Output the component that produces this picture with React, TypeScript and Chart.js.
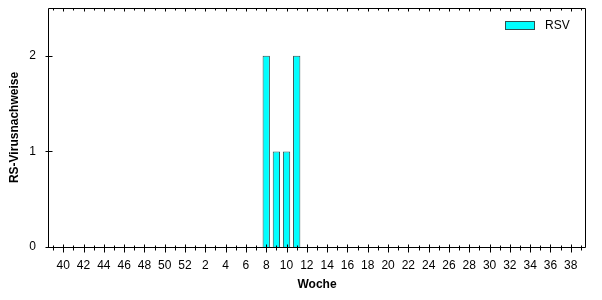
import React, { useEffect, useRef } from 'react';
import { Chart, registerables } from 'chart.js';

Chart.register(...registerables);

const weeks: string[] = [
  '39', '40', '41', '42', '43', '44', '45', '46', '47', '48', '49', '50', '51', '52',
  '1', '2', '3', '4', '5', '6', '7', '8', '9', '10', '11', '12', '13', '14', '15', '16',
  '17', '18', '19', '20', '21', '22', '23', '24', '25', '26', '27', '28', '29', '30',
  '31', '32', '33', '34', '35', '36', '37', '38', '39',
];

const rsvCounts: number[] = [
  0, 0, 0, 0, 0, 0, 0, 0, 0, 0, 0, 0, 0, 0,
  0, 0, 0, 0, 0, 0, 0, 2, 1, 1, 2, 0, 0, 0, 0, 0,
  0, 0, 0, 0, 0, 0, 0, 0, 0, 0, 0, 0, 0, 0,
  0, 0, 0, 0, 0, 0, 0, 0, 0,
];

const yTickValues: number[] = [0, 1, 2];
const seriesLabel = 'RSV';
const xTitle = 'Woche';
const yTitle = 'RS-Virusnachweise';

const FONT = "'Liberation Sans', Arial, sans-serif";

const framePlugin = {
  id: 'frameTicks',
  afterDatasetsDraw(chart: any) {
    const { ctx, chartArea: a, scales } = chart;
    const xs = scales.x;
    const ys = scales.y;
    const L = Math.round(a.left) + 0.5;
    const R = Math.round(a.right) - 0.5;
    const T = Math.round(a.top) + 0.5;
    const B = Math.round(a.bottom) + 0.5;
    ctx.save();
    ctx.strokeStyle = '#000';
    ctx.lineWidth = 1;
    ctx.beginPath();
    ctx.moveTo(L, T);
    ctx.lineTo(R, T);
    ctx.lineTo(R, B);
    ctx.lineTo(L, B);
    ctx.closePath();
    // x ticks
    weeks.forEach((w, i) => {
      const px = Math.round(xs.getPixelForValue(i)) + 0.5;
      const major = parseInt(w, 10) % 2 === 0;
      if (major) {
        ctx.moveTo(px, B - 3);
        ctx.lineTo(px, B + 5);
        ctx.moveTo(px, T);
        ctx.lineTo(px, T + 3);
      } else {
        ctx.moveTo(px, B - 2);
        ctx.lineTo(px, B + 3);
        ctx.moveTo(px, T);
        ctx.lineTo(px, T + 2);
      }
    });
    // y ticks
    yTickValues.forEach((v) => {
      const py = Math.round(ys.getPixelForValue(v)) + 0.5;
      ctx.moveTo(L - 3, py);
      ctx.lineTo(L + 4, py);
    });
    ctx.stroke();

    // legend
    const ds = chart.data.datasets[0];
    const bx = Math.round(a.right) - 81;
    const by = Math.round(a.top) + 13;
    ctx.fillStyle = ds.backgroundColor;
    ctx.fillRect(bx, by, 30, 9);
    ctx.strokeStyle = ds.borderColor;
    ctx.strokeRect(bx + 0.5, by + 0.5, 29, 8);
    ctx.fillStyle = '#000';
    ctx.font = `12px ${FONT}`;
    ctx.textBaseline = 'middle';
    ctx.textAlign = 'left';
    ctx.fillText(ds.label, bx + 40, by + 5);
    ctx.restore();
  },
};

export default function App() {
  const ref = useRef<HTMLCanvasElement | null>(null);

  useEffect(() => {
    document.body.style.margin = '0';
    const canvas = ref.current;
    if (!canvas) return;
    Chart.defaults.font.family = FONT;
    Chart.defaults.font.size = 12;
    Chart.defaults.color = '#000';
    const chart = new Chart(canvas, {
      type: 'bar',
      data: {
        labels: weeks,
        datasets: [
          {
            label: seriesLabel,
            data: rsvCounts,
            backgroundColor: '#00FFFF',
            borderColor: '#2F4F4F',
            borderWidth: 1,
            barPercentage: 0.72,
            categoryPercentage: 1,
          },
        ],
      },
      options: {
        responsive: false,
        animation: false,
        layout: { padding: { left: 0, right: 16, top: 8, bottom: 0 } },
        plugins: {
          legend: { display: false },
          tooltip: { enabled: false },
        },
        scales: {
          x: {
            type: 'category',
            offset: true,
            grid: { display: false, drawTicks: false },
            border: { display: false },
            ticks: {
              autoSkip: false,
              maxRotation: 0,
              minRotation: 0,
              padding: 11,
              color: '#000',
              font: { size: 12 },
              callback: (_v: any, i: number) => {
                const w = parseInt(weeks[i], 10);
                return w % 2 === 0 ? weeks[i] : '';
              },
            },
            title: {
              display: true,
              text: xTitle,
              color: '#000',
              font: { size: 12, weight: 'bold' },
              padding: { top: 0, bottom: 8 },
            },
            afterFit: (s: any) => {
              s.height = 53;
              s.paddingLeft = 0;
              s.paddingRight = 0;
            },
          },
          y: {
            type: 'linear',
            min: 0,
            max: 2.5,
            grid: { display: false, drawTicks: false },
            border: { display: false },
            ticks: {
              stepSize: 1,
              includeBounds: false,
              padding: 12,
              color: '#000',
              font: { size: 12 },
              callback: (v: any) => (yTickValues.includes(Number(v)) ? String(v) : ''),
            },
            title: {
              display: true,
              text: yTitle,
              color: '#000',
              font: { size: 12, weight: 'bold' },
              padding: { top: 7, bottom: 0 },
            },
            afterFit: (s: any) => {
              s.width = 48;
              s.paddingTop = 0;
              s.paddingBottom = 0;
            },
          },
        },
      },
      plugins: [framePlugin],
    });
    return () => chart.destroy();
  }, []);

  return <canvas ref={ref} width={602} height={300} style={{ display: 'block' }} />;
}
